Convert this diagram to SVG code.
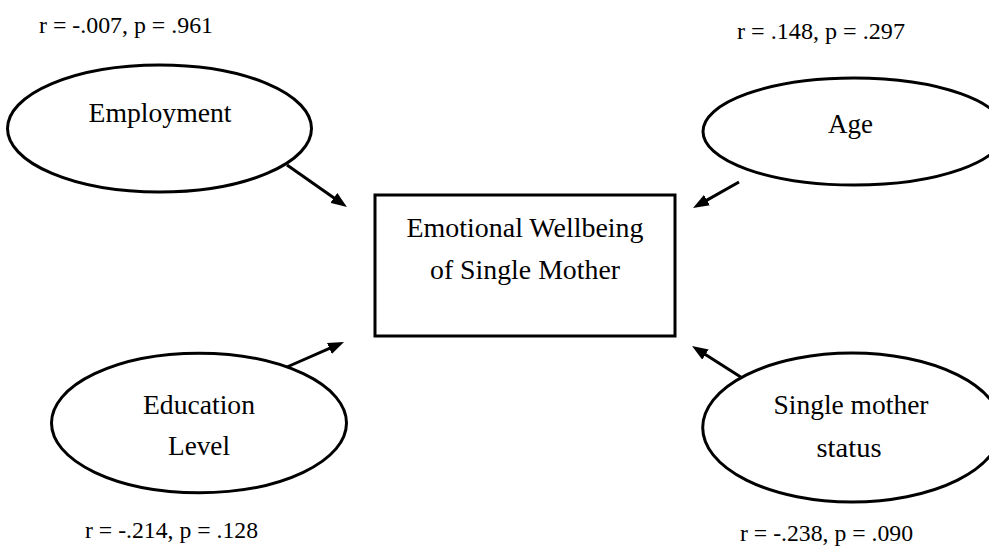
<svg xmlns="http://www.w3.org/2000/svg" width="989" height="546" viewBox="0 0 989 546">
<style>
.shape{fill:#fff;stroke:#000;stroke-width:3}
.lbl{font-family:"Liberation Serif","Times New Roman",serif;font-size:27.5px;fill:#000;text-anchor:middle}
.stat{font-family:"Liberation Serif","Times New Roman",serif;font-size:24px;fill:#000}
.conn{stroke:#000;stroke-width:3;fill:none}
</style>
<defs>
<marker id="ah" markerUnits="userSpaceOnUse" markerWidth="16" markerHeight="12" refX="2" refY="6" orient="auto" viewBox="0 0 16 12">
<path d="M0,0 L16,6 L0,12 z" fill="#000"/>
</marker>
</defs>
<rect width="989" height="546" fill="#fff"/>
<g id="connectors">
<line class="conn" x1="287" y1="165" x2="335.5" y2="199" marker-end="url(#ah)"/>
<line class="conn" x1="739" y1="182" x2="705.2" y2="201.1" marker-end="url(#ah)"/>
<line class="conn" x1="287" y1="367" x2="331.2" y2="347.6" marker-end="url(#ah)"/>
<line class="conn" x1="747" y1="381" x2="703.8" y2="353.5" marker-end="url(#ah)"/>
</g>
<g id="employment">
<ellipse class="shape" cx="159.5" cy="128.5" rx="152" ry="63.5"/>
<text class="lbl" x="160" y="122" textLength="143" lengthAdjust="spacingAndGlyphs">Employment</text>
<text class="stat" x="39" y="33" textLength="174" lengthAdjust="spacingAndGlyphs">r = -.007, p = .961</text>
</g>
<g id="age">
<ellipse class="shape" cx="854" cy="131.5" rx="151" ry="53.5"/>
<text class="lbl" x="850.5" y="132.5" textLength="45" lengthAdjust="spacingAndGlyphs">Age</text>
<text class="stat" x="737" y="39" textLength="168" lengthAdjust="spacingAndGlyphs">r = .148, p = .297</text>
</g>
<g id="wellbeing">
<rect class="shape" x="375" y="195" width="300" height="141"/>
<text class="lbl" x="525" y="237" textLength="237" lengthAdjust="spacingAndGlyphs">Emotional Wellbeing</text>
<text class="lbl" x="525" y="278.5" textLength="190" lengthAdjust="spacingAndGlyphs">of Single Mother</text>
</g>
<g id="education">
<ellipse class="shape" cx="199" cy="423" rx="147.5" ry="69.7"/>
<text class="lbl" x="199" y="413.5" textLength="112" lengthAdjust="spacingAndGlyphs">Education</text>
<text class="lbl" x="199" y="455" textLength="62" lengthAdjust="spacingAndGlyphs">Level</text>
<text class="stat" x="85" y="538" textLength="173" lengthAdjust="spacingAndGlyphs">r = -.214, p = .128</text>
</g>
<g id="single-mother">
<ellipse class="shape" cx="852" cy="427.5" rx="149.3" ry="74.5"/>
<text class="lbl" x="851" y="413.5" textLength="155" lengthAdjust="spacingAndGlyphs">Single mother</text>
<text class="lbl" x="849" y="456.5" textLength="65" lengthAdjust="spacingAndGlyphs">status</text>
<text class="stat" x="740" y="541" textLength="173" lengthAdjust="spacingAndGlyphs">r = -.238, p = .090</text>
</g>
</svg>
